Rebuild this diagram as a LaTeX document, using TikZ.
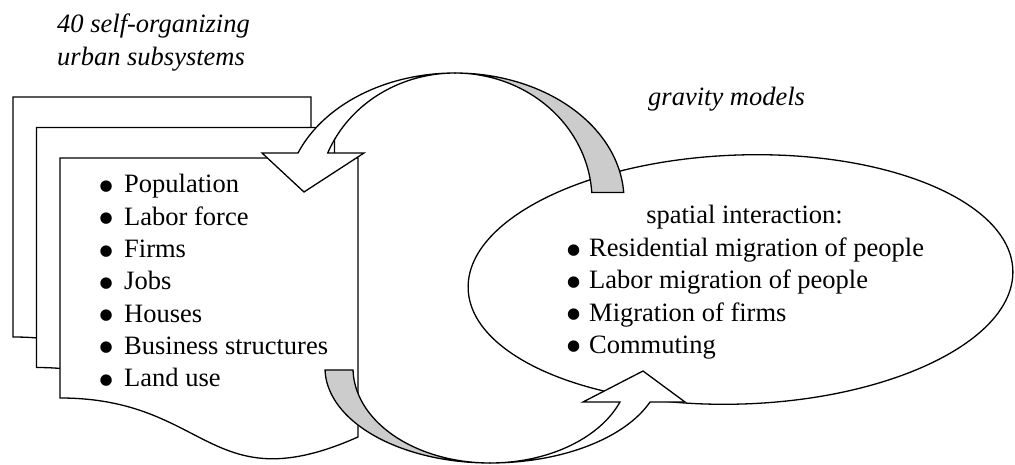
\documentclass[tikz,border=0pt]{standalone}
\usepackage{fontspec}
\setmainfont{Liberation Serif}
\newfontfamily\symfont{DejaVu Sans}
\definecolor{bandgray}{RGB}{204,204,204}
\newcommand\bigbul{\raisebox{2.3pt}{\symfont\fontsize{15pt}{15pt}\selectfont ●}}
\newcommand\bitem[2]{\makebox[#1][l]{\bigbul}#2}
\tikzset{
  outline/.style={draw=black, line width=1.3pt, line join=miter},
  docbox/.style={outline, fill=white},
  backband/.style={outline, fill=bandgray},
  frontband/.style={outline, fill=white},
  txt/.style={inner sep=0pt, anchor=base west},
  ctxt/.style={inner sep=0pt, anchor=base},
  itxt/.style={txt, font=\fontsize{26.5pt}{32pt}\selectfont\itshape},
}
\begin{document}
\begin{tikzpicture}[x=1pt, y=-1pt, font=\fontsize{26.5pt}{32pt}\selectfont]
\useasboundingbox (0,0) rectangle (1015,465);
\fill[white] (0,0) rectangle (1015,465);

% stacked documents
\foreach \dx/\dy in {13/97, 36.5/127.5, 60/158}{
  \draw[docbox, shift={(\dx,\dy)}] (0,0) -- (298,0) -- (298,279)
    .. controls (149,345) and (149,240) .. (0,240) -- cycle;
}

% titles
\node[itxt] (title1) at (57,33) {40 self-organizing};
\node[itxt] (title2) at (57,66) {urban subsystems};
\node[itxt] (grav) at (648,106) {gravity models};

% list in the front document
\node[txt] (l1) at (99.5,193)   {\bitem{24.5pt}{Population}};
\node[txt] (l2) at (99.5,225.25){\bitem{24.5pt}{Labor force}};
\node[txt] (l3) at (99.5,257.5) {\bitem{24.5pt}{Firms}};
\node[txt] (l4) at (99.5,289.75){\bitem{24.5pt}{Jobs}};
\node[txt] (l5) at (99.5,322)   {\bitem{24.5pt}{Houses}};
\node[txt] (l6) at (99.5,354.25){\bitem{24.5pt}{Business structures}};
\node[txt] (l7) at (99.5,386.5) {\bitem{24.5pt}{Land use}};

% ellipse
\draw[outline, fill=white, rotate around={2:(740.5,279.5)}]
  (740.5,279.5) ellipse [x radius=272.5, y radius=124.5];
\node[ctxt] (sp) at (744.5,224) {spatial interaction:};
\node[txt] (e1) at (567,256.5)  {\bitem{22pt}{Residential migration of people}};
\node[txt] (e2) at (567,288.75) {\bitem{22pt}{Labor migration of people}};
\node[txt] (e3) at (567,321)    {\bitem{22pt}{Migration of firms}};
\node[txt] (e4) at (567,353.25) {\bitem{22pt}{Commuting}};

% upper curved arrow (gravity models)
\draw[backband]
  plot[domain=270:356.6, samples=50, variable=\t] ({455+169*cos(\t)},{200+127*sin(\t)})
  -- plot[domain=356.6:270, samples=50, variable=\t] ({455+137*cos(\t)},{200+127*sin(\t)})
  -- cycle;
\draw[frontband]
  (262,153) -- (298,153)
  -- plot[domain=201.7:270, samples=50, variable=\t] ({455+169*cos(\t)},{200+127*sin(\t)})
  -- plot[domain=270:201.7, samples=50, variable=\t] ({455+137*cos(\t)},{200+127*sin(\t)})
  -- (364,153) -- (304,192) -- cycle;

% lower curved arrow
\draw[backband]
  plot[domain=178.8:90, samples=50, variable=\t] ({490+165*cos(\t)},{368+95*sin(\t)})
  -- plot[domain=90:178.8, samples=50, variable=\t] ({490+137*cos(\t)},{368+95*sin(\t)})
  -- cycle;
\draw[frontband]
  plot[domain=90:21, samples=50, variable=\t] ({490+171.4*cos(\t)},{368+95*sin(\t)})
  -- (685,402) -- (643,371) -- (583,402)
  -- plot[domain=21:90, samples=50, variable=\t] ({490+139.2*cos(\t)},{368+95*sin(\t)})
  -- cycle;
\end{tikzpicture}
\end{document}
